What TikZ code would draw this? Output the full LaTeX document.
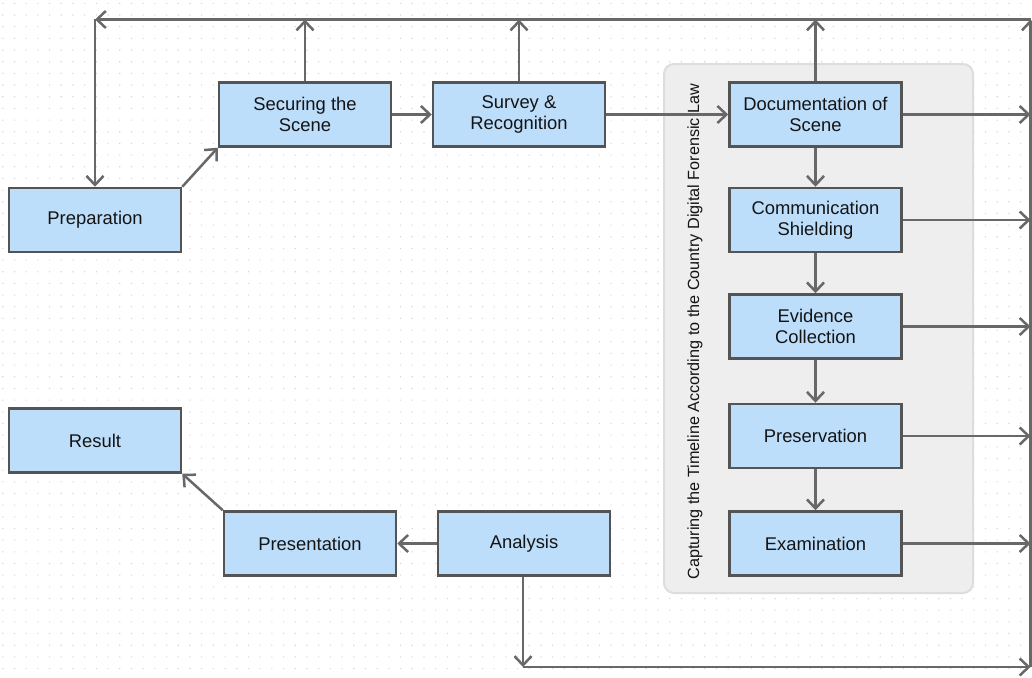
\documentclass[tikz,border=0pt]{standalone}
\usepackage{fontspec}
\setmainfont{Liberation Sans}
\usetikzlibrary{arrows.meta}
\definecolor{boxfill}{RGB}{189,222,251}
\definecolor{boxline}{RGB}{84,84,84}
\definecolor{connc}{RGB}{104,104,104}
\definecolor{groupfill}{RGB}{238,238,238}
\definecolor{groupline}{RGB}{221,221,221}
\definecolor{dotc}{RGB}{214,214,214}
\definecolor{txt}{RGB}{20,20,20}
\begin{document}
\begin{tikzpicture}[x=1pt,y=-1pt,
  stepbox/.style={draw=boxline, fill=boxfill, line width=2.5pt,
    minimum width=172pt, minimum height=64pt, inner sep=0pt,
    align=center, text=txt, font=\fontsize{18.4}{21.5}\selectfont},
  conn/.style={draw=connc, line width=2.5pt,
    -{Straight Barb[length=9pt,width=17pt]}},
  grouplabel/.style={rotate=90, text=txt, inner sep=0pt,
    font=\fontsize{16.2}{19}\selectfont},
]
% canvas and dotted grid
\fill[white] (0,0) rectangle (1032,677);
\useasboundingbox (0,0) rectangle (1032,677);
\fill[dotc] \foreach \i in {0,...,88} { \foreach \j in {0,...,57}
  { (2.2+\i*11.7,2.8+\j*11.67) rectangle ++(1.1,1.1) } };

% group panel
\draw[fill=groupfill, draw=groupline, line width=2pt, rounded corners=10pt]
  (664,64) rectangle (973,593);
\node[grouplabel] (grp) at (695,331.5)
  {Capturing the Timeline According to the Country Digital Forensic Law};

% process steps
\node[stepbox] (prep)   at (95,220)    {Preparation};
\node[stepbox] (secure) at (305,114.5) {Securing the\\Scene};
\node[stepbox] (survey) at (519,114.5) {Survey \&\\Recognition};
\node[stepbox] (doc)    at (815.5,114.5) {Documentation of\\Scene};
\node[stepbox] (comm)   at (815.5,220) {Communication\\Shielding};
\node[stepbox] (evid)   at (815.5,326.5) {Evidence\\Collection};
\node[stepbox] (pres)   at (815.5,436) {Preservation};
\node[stepbox] (exam)   at (815.5,543.5) {Examination};
\node[stepbox] (result) at (95,440.5)  {Result};
\node[stepbox] (presn)  at (310,543.5) {Presentation};
\node[stepbox] (anal)   at (524,543.5) {Analysis};

% loop corners
\coordinate (tl) at (95,19.5);
\coordinate (tr) at (1030.5,19.5);
\coordinate (br) at (1030.5,667);
\coordinate (bl) at (523,667);

% main flow
\draw[conn] (prep.north east) -- (secure.south west);
\draw[conn] (secure) -- (survey);
\draw[conn] (survey) -- (doc);
\draw[conn] (doc) -- (comm);
\draw[conn] (comm) -- (evid);
\draw[conn] (evid) -- (pres);
\draw[conn] (pres) -- (exam);
\draw[conn] (anal) -- (presn);
\draw[conn] (presn.north west) -- (result.south east);

% feedback to the top line
\draw[conn] (secure.north) -- (secure.north |- tl);
\draw[conn] (survey.north) -- (survey.north |- tl);
\draw[conn] (doc.north) -- (doc.north |- tl);

% outputs to the right line
\draw[conn] (doc.east)  -- (doc.east -| tr);
\draw[conn] (comm.east) -- (comm.east -| tr);
\draw[conn] (evid.east) -- (evid.east -| tr);
\draw[conn] (pres.east) -- (pres.east -| tr);
\draw[conn] (exam.east) -- (exam.east -| tr);

% outer loop
\draw[conn] (anal.south -| bl) -- (bl);
\draw[conn] (bl) -- (br);
\draw[conn] (br) -- (tr);
\draw[conn] (tr) -- (tl);
\draw[conn] (tl) -- (prep.north -| tl);
\end{tikzpicture}
\end{document}
